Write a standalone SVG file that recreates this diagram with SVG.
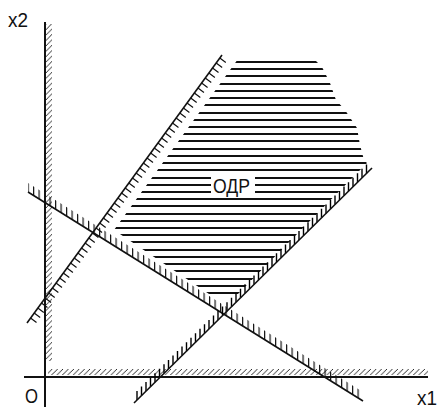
<svg xmlns="http://www.w3.org/2000/svg" width="437" height="409" viewBox="0 0 437 409">
<style>
.ln{stroke:#111;stroke-width:1.6;fill:none;stroke-linecap:butt}
.tk{stroke:#111;stroke-width:1.2;fill:none}
.tk3{stroke:#000;stroke-width:1.4;fill:none}
.ax{stroke:#111;stroke-width:2;fill:none}
.hz{stroke:#111;stroke-width:2;fill:none}
.lbl{font-family:"Liberation Sans",Arial,sans-serif;font-size:20px;fill:#111}
</style>
<defs>
<pattern id="v55" width="5.5" height="20" patternUnits="userSpaceOnUse"><rect width="1.2" height="20" fill="#111"/></pattern>
<pattern id="dg" width="5.4" height="5.4" patternUnits="userSpaceOnUse"><path d="M-1 1l2-2M0 5.4l5.4-5.4M4.4 6.4l2-2" stroke="#111" stroke-width="0.9"/></pattern>
<clipPath id="odr"><polygon points="238,59 314,59 322,67 330,83 336,100 345,110 357,128 360,145 364,160 367,163 236,296 212,296 114,230"/></clipPath>
</defs>

<g id="region">
<path class="hz" clip-path="url(#odr)" d="M90 62h290M90 69h290M90 76h290M90 84h290M90 91h290M90 98h290M90 105h290M90 113h290M90 120h290M90 127h290M90 134h290M90 141h290M90 149h290M90 156h290M90 163h290M90 170h290M90 178h290M90 185h290M90 192h290M90 199h290M90 206h290M90 214h290M90 221h290M90 228h290M90 235h290M90 242h290M90 250h290M90 257h290M90 264h290M90 271h290M90 279h290M90 286h290M90 293h290"/>
<rect x="211" y="175" width="44" height="22" fill="#fff"/>
<text class="lbl" x="213" y="193" textLength="37" lengthAdjust="spacingAndGlyphs">ОДР</text>
</g>

<g id="axes">
<polygon points="46,24 52,24 52,361 46,361" fill="url(#dg)"/>
<polygon points="48,369 428,369 428,375 48,375" fill="url(#dg)"/>
<line class="ax" x1="45" y1="22" x2="45" y2="407"/>
<line class="ax" x1="24" y1="377" x2="428" y2="377"/>
<text class="lbl" x="8" y="27" textLength="20" lengthAdjust="spacingAndGlyphs">x2</text>
<text class="lbl" x="417" y="405" textLength="20" lengthAdjust="spacingAndGlyphs">x1</text>
<text class="lbl" x="25" y="403" textLength="13" lengthAdjust="spacingAndGlyphs">O</text>
</g>

<g id="connectors">
<g id="line1">
<polygon points="28,192 363,401 363,392 28,183" fill="url(#v55)"/>
<line class="ln" x1="28" y1="192" x2="363" y2="401"/>
</g>
<g id="line2">
<path class="tk" d="M219.8 58l6 4.5m-9.64 0.5l6 4.5m-9.64 0.5l6 4.5m-9.64 0.5l6 4.5m-9.64 0.5l6 4.5m-9.64 0.5l6 4.5m-9.64 0.5l6 4.5m-9.64 0.5l6 4.5m-9.64 0.5l6 4.5m-9.64 0.5l6 4.5m-9.64 0.5l6 4.5m-9.64 0.5l6 4.5m-9.64 0.5l6 4.5m-9.64 0.5l6 4.5m-9.64 0.5l6 4.5m-9.64 0.5l6 4.5m-9.64 0.5l6 4.5m-9.64 0.5l6 4.5m-9.64 0.5l6 4.5m-9.64 0.5l6 4.5m-9.64 0.5l6 4.5m-9.64 0.5l6 4.5m-9.64 0.5l6 4.5m-9.64 0.5l6 4.5m-9.64 0.5l6 4.5m-9.64 0.5l6 4.5m-9.64 0.5l6 4.5m-9.64 0.5l6 4.5m-9.64 0.5l6 4.5m-9.64 0.5l6 4.5m-9.64 0.5l6 4.5m-9.64 0.5l6 4.5m-9.64 0.5l6 4.5m-9.64 0.5l6 4.5m-9.64 0.5l6 4.5m-9.64 0.5l6 4.5m-9.64 0.5l6 4.5m-9.64 0.5l6 4.5m-9.64 0.5l6 4.5m-9.64 0.5l6 4.5m-9.64 0.5l6 4.5m-9.64 0.5l6 4.5m-9.64 0.5l6 4.5m-9.64 0.5l6 4.5m-9.64 0.5l6 4.5m-9.64 0.5l6 4.5m-9.64 0.5l6 4.5m-9.64 0.5l6 4.5m-9.64 0.5l6 4.5m-9.64 0.5l6 4.5m-9.64 0.5l6 4.5m-9.64 0.5l6 4.5m-9.64 0.5l6 4.5"/>
<line class="ln" x1="27" y1="323" x2="222" y2="55"/>
</g>
<g id="line3">
<path class="tk3" d="M137 400l0-9m4.5 4.557l0-9m4.5 4.557l0-9m4.5 4.557l0-9m4.5 4.557l0-9m4.5 4.557l0-9m4.5 4.557l0-9m4.5 4.557l0-9m4.5 4.557l0-9m4.5 4.557l0-9m4.5 4.557l0-9m4.5 4.557l0-9m4.5 4.557l0-9m4.5 4.557l0-9m4.5 4.557l0-9m4.5 4.557l0-9m4.5 4.557l0-9m4.5 4.557l0-9m4.5 4.557l0-9m4.5 4.557l0-9m4.5 4.557l0-9m4.5 4.557l0-9m4.5 4.557l0-9m4.5 4.557l0-9m4.5 4.557l0-9m4.5 4.557l0-9m4.5 4.557l0-9m4.5 4.557l0-9m4.5 4.557l0-9m4.5 4.557l0-9m4.5 4.557l0-9m4.5 4.557l0-9m4.5 4.557l0-9m4.5 4.557l0-9m4.5 4.557l0-9m4.5 4.557l0-9m4.5 4.557l0-9m4.5 4.557l0-9m4.5 4.557l0-9m4.5 4.557l0-9m4.5 4.557l0-9m4.5 4.557l0-9m4.5 4.557l0-9m4.5 4.557l0-9m4.5 4.557l0-9m4.5 4.557l0-9m4.5 4.557l0-9m4.5 4.557l0-9m4.5 4.557l0-9m4.5 4.557l0-9m4.5 4.557l0-9m4.5 4.557l0-9"/>
<line class="ln" x1="134" y1="403" x2="372" y2="168"/>
</g>
</g>
</svg>
